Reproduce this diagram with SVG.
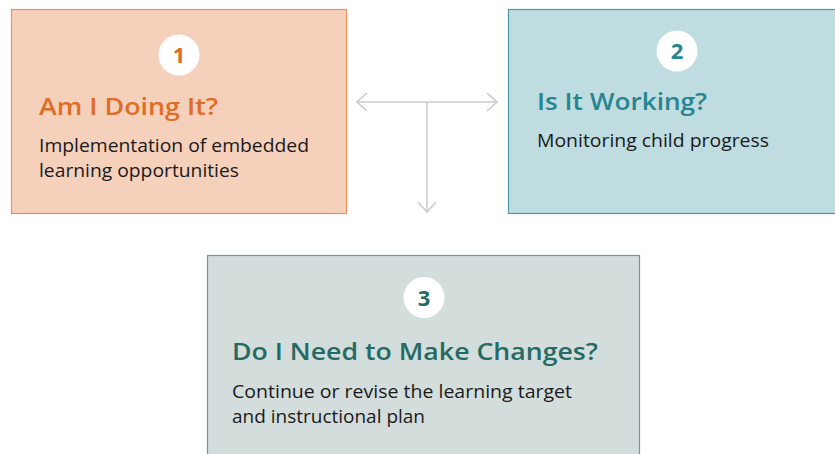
<svg xmlns="http://www.w3.org/2000/svg" width="835" height="454" viewBox="0 0 835 454">
<style>
.num{font-family:"Open Sans","Noto Sans",sans-serif;font-weight:700;font-size:22px;text-anchor:middle}
.title{font-family:"Open Sans","Noto Sans",sans-serif;font-weight:600;font-size:24px}
.body{font-family:"Open Sans","Noto Sans",sans-serif;font-size:17.5px;fill:#1a1a1a}
.conn{stroke:#cccccc;stroke-width:1.6;fill:none}
</style>
<defs>
<marker id="chev" viewBox="0 0 12 20" refX="11" refY="10" markerWidth="12" markerHeight="20" markerUnits="userSpaceOnUse" orient="auto-start-reverse">
<path d="M1,1 L11,10 L1,19" fill="none" stroke="#cccccc" stroke-width="1.6"/>
</marker>
</defs>
<g id="node1">
<rect x="11.5" y="9.5" width="335" height="204" fill="#f5d0bb" stroke="#e8915a" stroke-width="1.2"/>
<circle cx="179" cy="55" r="20.5" fill="#ffffff"/>
<text class="num" x="179" y="63" fill="#e06d25">1</text>
<text class="title" x="39" y="115" fill="#e06d25" textLength="179" lengthAdjust="spacingAndGlyphs">Am I Doing It?</text>
<text class="body" x="39" y="152" textLength="270" lengthAdjust="spacingAndGlyphs">Implementation of embedded</text>
<text class="body" x="39" y="177" textLength="200" lengthAdjust="spacingAndGlyphs">learning opportunities</text>
</g>
<g id="node2">
<rect x="508.5" y="9.5" width="340" height="204" fill="#bfdce0" stroke="#4f98a3" stroke-width="1.2"/>
<circle cx="677" cy="51" r="20.5" fill="#ffffff"/>
<text class="num" x="677" y="59" fill="#26858f">2</text>
<text class="title" x="537" y="110" fill="#26858f" textLength="170" lengthAdjust="spacingAndGlyphs">Is It Working?</text>
<text class="body" x="537" y="147" textLength="232" lengthAdjust="spacingAndGlyphs">Monitoring child progress</text>
</g>
<g id="node3">
<rect x="207.5" y="255.5" width="432" height="220" fill="#d3dddc" stroke="#6d9c98" stroke-width="1.2"/>
<circle cx="424" cy="297.5" r="20.5" fill="#ffffff"/>
<text class="num" x="424" y="305.5" fill="#256b64">3</text>
<text class="title" x="232" y="360" fill="#256b64" textLength="366" lengthAdjust="spacingAndGlyphs">Do I Need to Make Changes?</text>
<text class="body" x="232" y="398" textLength="340" lengthAdjust="spacingAndGlyphs">Continue or revise the learning target</text>
<text class="body" x="232" y="423" textLength="193" lengthAdjust="spacingAndGlyphs">and instructional plan</text>
</g>
<g id="connectors">
<path class="conn" d="M357,102 L497,102" marker-start="url(#chev)" marker-end="url(#chev)"/>
<path class="conn" d="M427,102 L427,212" marker-end="url(#chev)"/>
</g>
</svg>
